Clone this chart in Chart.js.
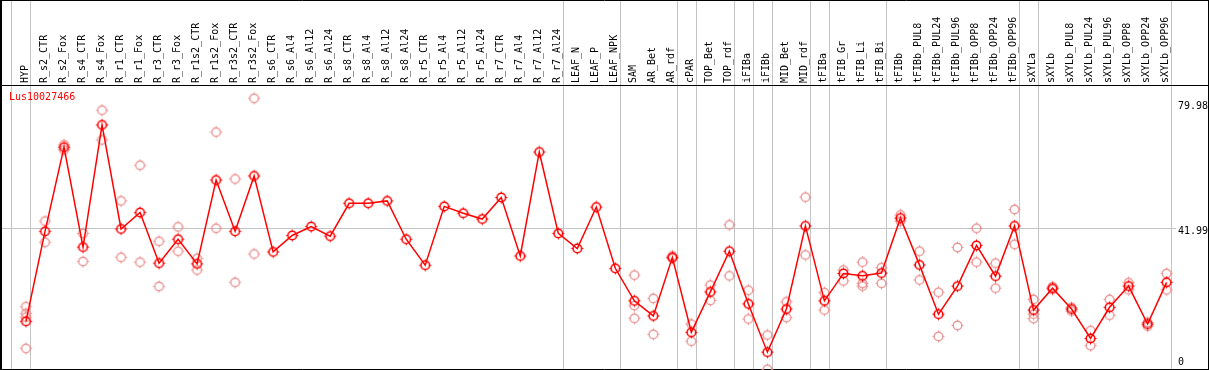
<!DOCTYPE html>
<html>
<head>
<meta charset="utf-8">
<script src="https://cdn.jsdelivr.net/npm/chart.js"></script>
<style>
  html, body { margin: 0; padding: 0; background: #fff; overflow: hidden; }
</style>
</head>
<body>
<canvas id="myChart" width="1209" height="370"></canvas>
<script>
const geneName = "Lus10027466";

const categories = [
  "HYP", "R_s2_CTR", "R_s2_Fox", "R_s4_CTR", "R_s4_Fox", "R_r1_CTR", "R_r1_Fox",
  "R_r3_CTR", "R_r3_Fox", "R_r1s2_CTR", "R_r1s2_Fox", "R_r3s2_CTR", "R_r3s2_Fox",
  "R_s6_CTR", "R_s6_Al4", "R_s6_Al12", "R_s6_Al24", "R_s8_CTR", "R_s8_Al4", "R_s8_Al12",
  "R_s8_Al24", "R_r5_CTR", "R_r5_Al4", "R_r5_Al12", "R_r5_Al24", "R_r7_CTR", "R_r7_Al4",
  "R_r7_Al12", "R_r7_Al24", "LEAF_N", "LEAF_P", "LEAF_NPK", "SAM", "AR_Bet", "AR_rdf",
  "cPAR", "TOP_Bet", "TOP_rdf", "iFIBa", "iFIBb", "MID_Bet", "MID_rdf", "tFIBa",
  "tFIB_Gr", "tFIB_Li", "tFIB_Bi", "tFIBb", "tFIBb_PUL8", "tFIBb_PUL24", "tFIBb_PUL96",
  "tFIBb_OPP8", "tFIBb_OPP24", "tFIBb_OPP96", "sXYLa", "sXYLb", "sXYLb_PUL8",
  "sXYLb_PUL24", "sXYLb_PUL96", "sXYLb_OPP8", "sXYLb_OPP24", "sXYLb_OPP96"
];

// mean expression per sample
const means = [
  14.8, 41.1, 65.7, 36.5, 72.2, 41.8, 46.6, 31.8, 38.8, 31.6, 56.1, 41.1, 57.3,
  35.1, 39.9, 42.5, 39.7, 49.3, 49.3, 50.0, 38.8, 31.2, 48.4, 46.4, 44.7, 51.0, 33.9,
  64.3, 40.5, 36.1, 48.2, 30.3, 20.8, 16.4, 33.5, 11.6, 23.4, 35.3, 19.9, 5.8, 18.4,
  42.7, 20.8, 28.8, 28.1, 28.9, 45.0, 31.3, 16.9, 25.1, 37.0, 28.0, 42.7, 18.1, 24.5,
  18.4, 9.8, 18.9, 25.1, 14.0, 26.2
];

// single replicate values (same order as categories)
const replicates = [
  [19.1, 17.1, 16.0, 6.9], [44.1, 37.9], [66.4, 64.9], [40.5, 32.3], [76.5, 67.8],
  [50.0, 33.5], [60.4, 32.1], [38.2, 25.0], [42.4, 35.3], [33.2, 29.8], [70.1, 42.0],
  [56.4, 26.2], [79.98, 34.5],
  [], [], [], [], [], [], [], [], [], [], [], [], [], [], [], [], [], [], [],
  [28.3, 19.4, 15.7], [21.5, 11.0], [33.9, 33.2], [14.0, 9.0], [25.4, 20.9],
  [43.0, 28.1], [23.9, 15.5], [10.8, 0.8], [20.5, 15.9], [51.1, 34.2], [23.2, 18.1],
  [29.8, 26.6], [32.1, 25.9, 25.1], [30.5, 25.9], [45.9, 44.1], [35.3, 26.9],
  [23.3, 10.4], [36.4, 13.6], [42.0, 32.1], [31.8, 24.5], [47.5, 37.3],
  [21.2, 16.9, 15.6], [24.9, 24.1], [18.9, 17.8], [12.1, 7.7], [21.2, 16.6],
  [26.1, 24.0], [14.5, 13.4], [28.8, 24.0]
];

// last sample index of each tissue group (separator drawn after it)
const groupEnds = [-1, 0, 28, 31, 34, 35, 37, 38, 39, 41, 42, 45, 52, 53, 60];

const yTicks = [0, 41.99, 79.98];
const gridTicks = [41.99];

const font = "10px 'DejaVu Sans Mono', monospace";

function makeMarker(color, lw) {
  const c = document.createElement("canvas");
  c.width = 15;
  c.height = 15;
  const g = c.getContext("2d");
  g.strokeStyle = color;
  g.lineWidth = lw;
  g.beginPath();
  g.arc(7.5, 7.5, 4.3, 0, Math.PI * 2);
  g.stroke();
  g.lineWidth = 1;
  g.beginPath();
  g.moveTo(7.5, 1.5); g.lineTo(7.5, 3);
  g.moveTo(7.5, 12); g.lineTo(7.5, 13.5);
  g.moveTo(1.5, 7.5); g.lineTo(3, 7.5);
  g.moveTo(12, 7.5); g.lineTo(13.5, 7.5);
  g.stroke();
  return c;
}

const meanMarker = makeMarker("#ff0000", 1.6);
const repMarker = makeMarker("rgba(235,140,140,0.9)", 1.4);

const meanPoints = means.map((v, i) => ({ x: i, y: v }));
const repPoints = [];
replicates.forEach((list, i) => list.forEach((v) => repPoints.push({ x: i, y: v })));

// x: sample i sits at 26 + 19.01*i px, y: value v sits at 372 - 3.422*v px
const step = 19.01;
const xMin = -26 / step;
const xMax = (1209 - 26) / step;
const yPerPx = 1 / 3.422;
const yMin = (372 - 370) * yPerPx;
const yMax = 372 * yPerPx;

const decorations = {
  id: "decorations",
  beforeDatasetsDraw(chart) {
    const ctx = chart.ctx;
    const xs = chart.scales.x;
    const ys = chart.scales.y;
    ctx.save();

    // group separators
    ctx.strokeStyle = "#c4c4c4";
    ctx.lineWidth = 1;
    groupEnds.forEach((g) => {
      const px = Math.round(xs.getPixelForValue(g + 0.23)) + 0.5;
      ctx.beginPath();
      ctx.moveTo(px, 0);
      ctx.lineTo(px, 370);
      ctx.stroke();
    });

    // horizontal grid
    gridTicks.forEach((t) => {
      const py = Math.round(ys.getPixelForValue(t)) + 0.5;
      ctx.beginPath();
      ctx.moveTo(0, py);
      ctx.lineTo(1176, py);
      ctx.stroke();
    });

    // frame
    ctx.strokeStyle = "#000";
    ctx.beginPath();
    ctx.moveTo(0, 0.5); ctx.lineTo(1209, 0.5);
    ctx.moveTo(0, 85.5); ctx.lineTo(1209, 85.5);
    ctx.moveTo(0, 369.5); ctx.lineTo(1209, 369.5);
    ctx.moveTo(1208.5, 0); ctx.lineTo(1208.5, 370);
    ctx.stroke();
    ctx.lineWidth = 2;
    ctx.beginPath();
    ctx.moveTo(1, 0); ctx.lineTo(1, 370);
    ctx.stroke();

    // sample labels
    ctx.font = font;
    ctx.fillStyle = "#000";
    ctx.textAlign = "left";
    ctx.textBaseline = "middle";
    categories.forEach((name, i) => {
      const px = xs.getPixelForValue(i);
      ctx.save();
      ctx.translate(px - 1, 83);
      ctx.rotate(-Math.PI / 2);
      ctx.fillText(name, 0, 0);
      ctx.restore();
    });

    // y tick labels
    ctx.textBaseline = "top";
    yTicks.forEach((t) => {
      const py = Math.min(Math.max(ys.getPixelForValue(t) - 1.5, 101), 357);
      ctx.fillText(String(t), 1178, py);
    });

    // gene name
    ctx.fillStyle = "#ff0000";
    ctx.textBaseline = "middle";
    ctx.fillText(geneName, 9, 97);
    ctx.restore();
  }
};

const ctx = document.getElementById("myChart").getContext("2d");
const myChart = new Chart(ctx, {
  type: "line",
  data: {
    datasets: [
      {
        label: "mean",
        data: meanPoints,
        borderColor: "#ff0000",
        borderWidth: 1.5,
        pointStyle: meanMarker,
        pointRadius: 5,
        tension: 0,
        fill: false,
      },
      {
        label: "replicates",
        data: repPoints,
        showLine: false,
        pointStyle: repMarker,
        pointRadius: 5,
      },
    ],
  },
  plugins: [decorations],
  options: {
    responsive: false,
    animation: false,
    events: [],
    layout: { padding: 0, autoPadding: false },
    plugins: {
      legend: { display: false },
      tooltip: { enabled: false },
    },
    scales: {
      x: { type: "linear", min: xMin, max: xMax, display: false },
      y: { type: "linear", min: yMin, max: yMax, display: false },
    },
  },
});
</script>
</body>
</html>
